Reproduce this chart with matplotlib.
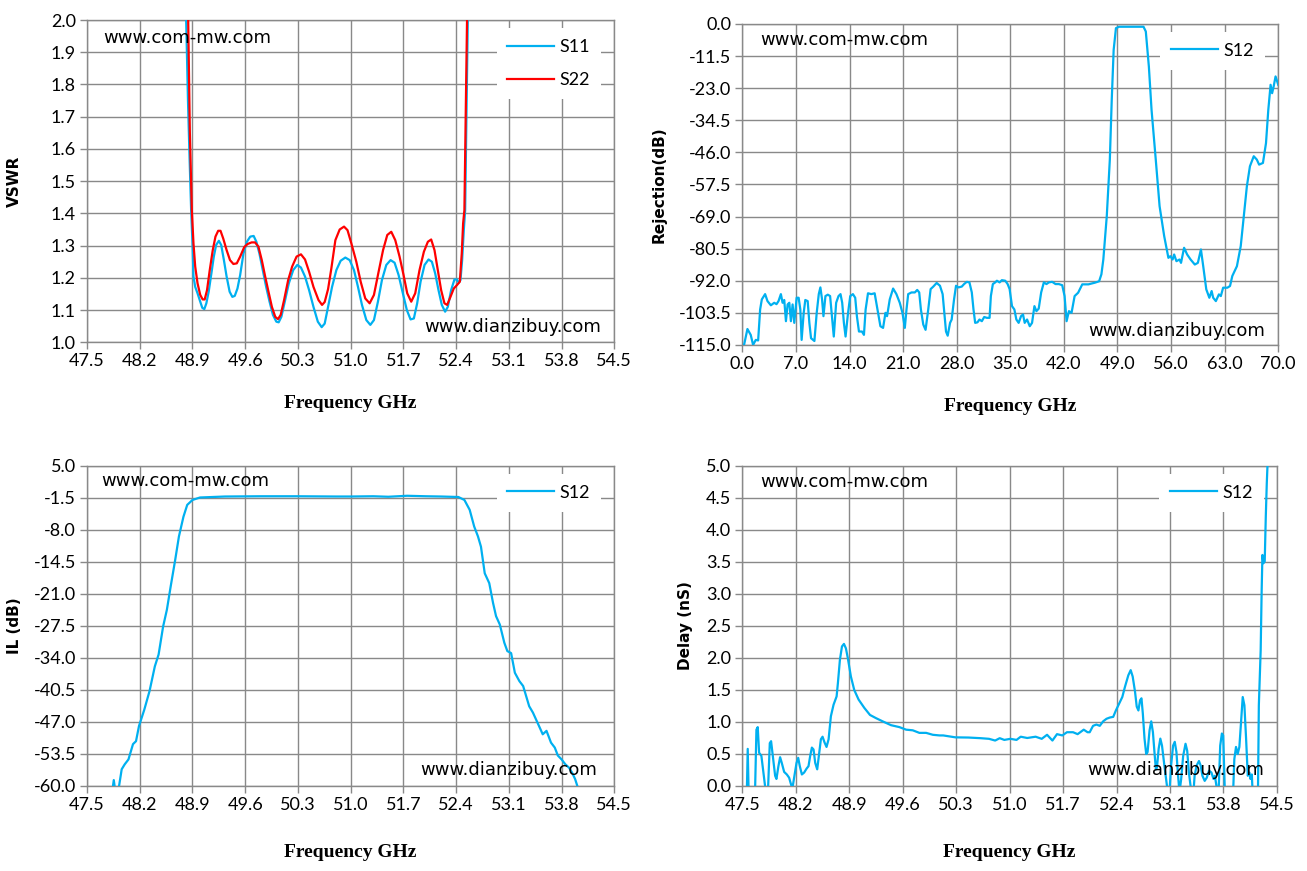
import matplotlib
matplotlib.use("Agg")
import matplotlib.pyplot as plt

plt.rcParams['font.family'] = ['Lato', 'DejaVu Sans']
plt.rcParams['axes.unicode_minus'] = False

# ---------------- data ----------------
# VSWR panel
vswr_s11_f = [48.79, 48.816, 48.84, 48.86, 48.882, 48.90, 48.913, 48.936, 48.967, 49.003, 49.03,
              49.057, 49.084, 49.115, 49.151, 49.183, 49.214, 49.25, 49.281, 49.317, 49.353,
              49.393, 49.429, 49.461, 49.497, 49.533, 49.577, 49.622, 49.667, 49.712, 49.748,
              49.788, 49.833, 49.878, 49.923, 49.968, 50.013, 50.044, 50.08, 50.125, 50.179,
              50.237, 50.291, 50.34, 50.394, 50.448, 50.506, 50.564, 50.615, 50.655, 50.70,
              50.753, 50.81, 50.867, 50.929, 50.987, 51.044, 51.097, 51.15, 51.208, 51.261,
              51.309, 51.362, 51.415, 51.473, 51.53, 51.583, 51.636, 51.693, 51.746, 51.795,
              51.839, 51.883, 51.928, 51.981, 52.034, 52.078, 52.122, 52.166, 52.21, 52.254,
              52.29, 52.334, 52.378, 52.409, 52.436, 52.458, 52.48, 52.502, 52.52, 52.54,
              52.555, 52.575]
vswr_s11 = [2.4, 2.0, 1.75, 1.58, 1.41, 1.307, 1.204, 1.172, 1.152, 1.126, 1.107,
            1.103, 1.121, 1.157, 1.214, 1.266, 1.302, 1.315, 1.302, 1.255, 1.204,
            1.157, 1.141, 1.144, 1.167, 1.209, 1.276, 1.312, 1.328, 1.330, 1.312,
            1.276, 1.224, 1.172, 1.126, 1.085, 1.064, 1.062, 1.079, 1.126, 1.183,
            1.224, 1.24, 1.232, 1.204, 1.162, 1.11, 1.064, 1.047, 1.058, 1.11,
            1.172, 1.224, 1.253, 1.263, 1.255, 1.224, 1.172, 1.116, 1.069, 1.054,
            1.069, 1.126, 1.193, 1.24, 1.255, 1.247, 1.209, 1.152, 1.10, 1.071,
            1.074, 1.121, 1.188, 1.24, 1.257, 1.25, 1.214, 1.162, 1.116, 1.095,
            1.11, 1.162, 1.195, 1.195, 1.185, 1.193, 1.255, 1.348, 1.41, 1.75,
            2.0, 2.4]
vswr_s22_f = [48.82, 48.843, 48.865, 48.891, 48.913, 48.936, 48.967, 49.003, 49.035, 49.062,
              49.093, 49.129, 49.169, 49.205, 49.241, 49.272, 49.308, 49.353, 49.398, 49.443,
              49.488, 49.533, 49.586, 49.631, 49.685, 49.73, 49.775, 49.82, 49.865, 49.909,
              49.954, 49.999, 50.035, 50.071, 50.116, 50.17, 50.223, 50.282, 50.34, 50.394,
              50.448, 50.506, 50.573, 50.62, 50.655, 50.70, 50.744, 50.797, 50.854, 50.912,
              50.958, 51.009, 51.075, 51.133, 51.194, 51.252, 51.309, 51.371, 51.43, 51.486,
              51.539, 51.592, 51.649, 51.702, 51.751, 51.804, 51.857, 51.914, 51.972, 52.025,
              52.069, 52.113, 52.157, 52.201, 52.245, 52.281, 52.325, 52.369, 52.413, 52.449,
              52.475, 52.493, 52.51, 52.53, 52.545, 52.565]
vswr_s22 = [2.4, 2.0, 1.65, 1.41, 1.307, 1.235, 1.183, 1.147, 1.133, 1.133,
            1.162, 1.224, 1.286, 1.328, 1.346, 1.346, 1.322, 1.286, 1.255, 1.243,
            1.245, 1.266, 1.295, 1.305, 1.31, 1.31, 1.297, 1.255, 1.204, 1.157,
            1.11, 1.079, 1.072, 1.085, 1.131, 1.193, 1.235, 1.266, 1.273, 1.257,
            1.219, 1.172, 1.131, 1.116, 1.125, 1.165, 1.23, 1.317, 1.35, 1.359,
            1.348, 1.307, 1.25, 1.188, 1.136, 1.121, 1.147, 1.219, 1.286, 1.333,
            1.343, 1.317, 1.266, 1.209, 1.152, 1.126, 1.152, 1.224, 1.281, 1.312,
            1.319, 1.286, 1.224, 1.162, 1.121, 1.116, 1.141, 1.167, 1.178, 1.188,
            1.276, 1.369, 1.41, 1.75, 2.0, 2.4]

# Rejection panel (S12 wideband)
rej_f = [0.22, 0.66, 1.09, 1.4, 1.75, 2.06, 2.32, 2.54, 2.97, 3.28, 3.72, 4.16, 4.46, 4.72, 5.03,
         5.25, 5.47, 5.69, 5.91, 6.13, 6.34, 6.56, 6.78, 7.09, 7.35, 7.57, 7.74, 8.01, 8.22, 8.53,
         8.75, 8.97, 9.41, 9.71, 9.98, 10.19, 10.41, 10.59, 10.85, 11.16, 11.46, 11.73, 11.94,
         12.25, 12.56, 12.82, 13.04, 13.26, 13.48, 13.78, 14.09, 14.44, 14.74, 14.96, 15.23,
         15.62, 15.88, 16.1, 16.41, 16.84, 17.28, 17.5, 17.72, 18.03, 18.38, 18.69, 18.9, 19.25,
         19.69, 20.12, 20.56, 20.91, 21.22, 21.44, 21.66, 22.09, 22.53, 22.84, 23.1, 23.32, 23.63,
         23.93, 24.28, 24.59, 24.94, 25.38, 25.81, 26.16, 26.38, 26.6, 26.82, 27.13, 27.34, 27.65,
         27.91, 28.22, 28.66, 28.96, 29.31, 29.66, 29.97, 30.19, 30.41, 30.71, 30.97, 31.28,
         31.59, 31.94, 32.29, 32.46, 32.72, 33.03, 33.25, 33.6, 33.9, 34.34, 34.65, 34.91, 35.22,
         35.53, 35.79, 36.09, 36.4, 36.66, 36.88, 37.19, 37.54, 37.84, 38.15, 38.41, 38.71, 39.03,
         39.38, 39.72, 40.03, 40.47, 40.91, 41.34, 41.78, 42.09, 42.35, 42.66, 43.0, 43.4, 43.86,
         44.4, 45.2, 46.05, 46.6, 46.9, 47.15, 47.6, 48.0, 48.25, 48.5, 48.8, 49.2, 50.0, 51.0,
         52.0, 52.4, 52.7, 53.1, 53.45, 54.0, 54.5, 55.1, 55.65, 55.9, 56.2, 56.4, 56.7, 57.1,
         57.3, 57.7, 58.1, 58.55, 59.1, 59.5, 59.9, 60.2, 60.6, 61.0, 61.3, 61.5, 61.85, 62.25,
         62.5, 62.8, 63.35, 63.7, 64.0, 64.6, 65.1, 65.5, 65.9, 66.3, 66.8, 67.2, 67.5, 68.0,
         68.4, 68.7, 69.0, 69.2, 69.4, 69.65, 70.0]
rej_db = [-115.0, -109.3, -111.4, -115.0, -113.2, -113.4, -102.3, -98.7, -96.8, -99.3, -100.8,
          -99.9, -100.4, -99.3, -96.8, -99.9, -98.9, -106.5, -100.5, -99.9, -106.5, -100.5,
          -107.1, -98.1, -98.1, -102.3, -113.2, -103.5, -98.9, -99.3, -107.1, -112.6, -113.6,
          -103.5, -96.8, -94.4, -98.7, -104.7, -97.5, -97.0, -97.5, -105.9, -112.0, -99.9,
          -97.5, -96.8, -99.9, -107.1, -112.0, -104.1, -97.5, -96.8, -98.1, -104.7, -110.2,
          -110.2, -111.4, -102.3, -96.5, -96.8, -96.5, -99.9, -103.5, -108.3, -108.9, -103.5,
          -104.7, -98.7, -94.8, -96.8, -99.9, -103.5, -108.9, -102.3, -96.8, -96.2, -96.2,
          -95.3, -96.2, -102.3, -107.7, -109.6, -102.3, -95.0, -94.1, -92.8, -93.8, -96.8,
          -103.5, -110.2, -111.7, -107.1, -105.9, -98.7, -93.8, -94.4, -94.1, -93.2, -92.4,
          -92.6, -96.2, -102.3, -107.1, -106.9, -105.9, -106.5, -105.0, -105.3, -105.3, -97.5,
          -93.2, -92.6, -92.0, -92.6, -91.8, -92.0, -93.2, -95.0, -101.1, -102.3, -105.9,
          -107.1, -104.7, -104.1, -107.1, -105.9, -108.3, -107.1, -101.1, -102.9, -102.0,
          -96.2, -92.6, -93.2, -92.6, -92.4, -93.2, -93.2, -93.6, -97.5, -106.5, -102.9,
          -103.5, -97.5, -96.3, -93.3, -93.3, -92.7, -92.2, -89.7, -84.4, -68.9, -48.6, -27.2,
          -9.3, -1.5, -1.0, -1.0, -1.0, -1.0, -1.0, -2.7, -15.3, -30.8, -48.6, -65.3, -76.0,
          -83.8, -83.2, -84.4, -82.6, -85.0, -84.4, -85.6, -80.2, -82.6, -84.4, -86.2, -85.6,
          -80.8, -86.8, -95.1, -98.1, -95.7, -98.1, -99.3, -96.9, -97.5, -94.5, -94.5, -93.9,
          -90.3, -86.8, -79.6, -68.9, -58.2, -51.0, -47.4, -48.6, -50.4, -49.8, -42.7, -30.8,
          -21.8, -24.8, -22.4, -18.8, -21.8]

# Insertion loss panel (S12)
il_f = [47.84, 47.855, 47.87, 47.92, 47.96, 48.0, 48.05, 48.11, 48.15, 48.19, 48.26, 48.33,
        48.40, 48.45, 48.51, 48.56, 48.61, 48.67, 48.72, 48.78, 48.83, 48.90, 49.0, 49.33,
        49.8, 50.3, 50.8, 51.0, 51.3, 51.5, 51.75, 52.0, 52.2, 52.43, 52.51, 52.58, 52.64,
        52.69, 52.73, 52.78, 52.84, 52.89, 52.93, 52.98, 53.04, 53.08, 53.13, 53.18, 53.24,
        53.29, 53.37, 53.42, 53.5, 53.55, 53.6, 53.66, 53.71, 53.75, 53.8, 53.85, 53.9, 53.94,
        53.98, 54.02]
il_db = [-60.5, -58.8, -60.5, -60.5, -56.6, -55.6, -54.6, -51.5, -50.9, -47.8, -44.5, -40.7,
         -35.7, -33.3, -27.6, -24.2, -19.5, -14.1, -9.3, -5.3, -2.9, -1.9, -1.4, -1.2,
         -1.15, -1.15, -1.2, -1.2, -1.15, -1.25, -1.05, -1.15, -1.2, -1.3, -1.9, -3.9, -7.3,
         -9.3, -11.4, -16.8, -18.8, -22.8, -25.5, -27.2, -30.9, -32.6, -33.0, -37.0, -38.7,
         -39.7, -43.8, -45.1, -47.8, -49.5, -48.8, -51.2, -52.2, -53.8, -54.6, -55.6, -56.3,
         -57.3, -58.6, -60.5]

# Group delay panel (S12)
dly_f = [47.555, 47.57, 47.585, 47.662, 47.684, 47.701, 47.719, 47.749, 47.771, 47.797, 47.828,
         47.859, 47.876, 47.894, 47.929, 47.946, 47.972, 47.994, 48.016, 48.047, 48.082, 48.112,
         48.143, 48.156, 48.182, 48.209, 48.231, 48.252, 48.279, 48.309, 48.34, 48.366, 48.388,
         48.41, 48.432, 48.454, 48.48, 48.506, 48.528, 48.55, 48.576, 48.602, 48.629, 48.659,
         48.694, 48.734, 48.751, 48.777, 48.804, 48.83, 48.856, 48.882, 48.921, 48.965, 49.022,
         49.097, 49.171, 49.25, 49.337, 49.447, 49.556, 49.644, 49.731, 49.818, 49.906, 49.994,
         50.081, 50.13, 50.29, 50.46, 50.62, 50.73, 50.81, 50.87, 50.93, 51.01, 51.09, 51.145,
         51.23, 51.34, 51.42, 51.49, 51.56, 51.62, 51.69, 51.75, 51.83, 51.89, 51.97, 52.02,
         52.048, 52.092, 52.136, 52.18, 52.224, 52.268, 52.312, 52.356, 52.391, 52.435, 52.475,
         52.51, 52.554, 52.585, 52.611, 52.642, 52.664, 52.686, 52.708, 52.726, 52.744, 52.766,
         52.788, 52.806, 52.832, 52.854, 52.876, 52.898, 52.915, 52.929, 52.951, 52.973, 52.995,
         53.026, 53.06, 53.083, 53.114, 53.14, 53.162, 53.184, 53.202, 53.224, 53.246, 53.272,
         53.303, 53.325, 53.347, 53.369, 53.395, 53.422, 53.448, 53.479, 53.501, 53.524, 53.554,
         53.581, 53.611, 53.642, 53.669, 53.687, 53.708, 53.73, 53.757, 53.779, 53.796, 53.81,
         53.823, 53.92, 53.942, 53.964, 53.986, 54.008, 54.03, 54.052, 54.074, 54.096, 54.118,
         54.14, 54.153, 54.171, 54.189, 54.25, 54.263, 54.287, 54.3, 54.31, 54.323, 54.34,
         54.354, 54.367, 54.376, 54.39]
dly_ns = [-0.3, 0.58, -0.3, -0.3, 0.88, 0.92, 0.52, 0.47, 0.26, 0.0, -0.3,
          0.67, 0.70, 0.52, 0.16, 0.11, 0.31, 0.45, 0.36, 0.22, 0.18, 0.13,
          0.0, -0.03, 0.16, 0.36, 0.44, 0.31, 0.18, 0.21, 0.27, 0.31, 0.47,
          0.60, 0.57, 0.36, 0.26, 0.52, 0.73, 0.77, 0.68, 0.61, 0.73, 1.09,
          1.27, 1.40, 1.61, 1.97, 2.18, 2.22, 2.15, 1.99, 1.71, 1.50, 1.35,
          1.22, 1.11, 1.06, 1.01, 0.95, 0.92, 0.88, 0.87, 0.83, 0.83, 0.80,
          0.79, 0.79, 0.76, 0.757, 0.747, 0.737, 0.71, 0.747, 0.72, 0.737, 0.72, 0.77,
          0.75, 0.77, 0.737, 0.80, 0.71, 0.81, 0.79, 0.84, 0.84, 0.81, 0.88, 0.84,
          0.84, 0.94, 0.96, 0.94, 1.01, 1.05, 1.07, 1.08, 1.18, 1.29, 1.39,
          1.55, 1.73, 1.81, 1.71, 1.47, 1.24, 1.18, 1.34, 1.37, 1.13, 0.74,
          0.50, 0.53, 0.87, 1.01, 0.84, 0.50, 0.26, 0.29, 0.58, 0.74, 0.63,
          0.32, 0.0, -0.3, 0.32, 0.63, 0.69, 0.53, 0.21, -0.1, 0.11, 0.47,
          0.66, 0.55, 0.21, 0.0, -0.3, 0.16, 0.32, 0.39, 0.32, 0.16, 0.08,
          0.13, 0.24, 0.21, 0.11, 0.16, 0.0, -0.3, 0.63, 0.82, 0.79, 0.21,
          -0.3, -0.3, 0.42, 0.61, 0.50, 0.61, 1.0, 1.39, 1.26, 0.74, 0.16,
          0.21, 0.11, 0.18, -0.3, -0.3, 1.26, 2.12, 3.06, 3.61, 3.48, 3.51,
          4.21, 4.73, 5.0, 5.6]

# axis ticks
freq_ticks = [47.5, 48.2, 48.9, 49.6, 50.3, 51.0, 51.7, 52.4, 53.1, 53.8, 54.5]
vswr_ticks = [1.0, 1.1, 1.2, 1.3, 1.4, 1.5, 1.6, 1.7, 1.8, 1.9, 2.0]
rej_xticks = [0.0, 7.0, 14.0, 21.0, 28.0, 35.0, 42.0, 49.0, 56.0, 63.0, 70.0]
rej_yticks = [0.0, -11.5, -23.0, -34.5, -46.0, -57.5, -69.0, -80.5, -92.0, -103.5, -115.0]
il_ticks = [5.0, -1.5, -8.0, -14.5, -21.0, -27.5, -34.0, -40.5, -47.0, -53.5, -60.0]
dly_ticks = [0.0, 0.5, 1.0, 1.5, 2.0, 2.5, 3.0, 3.5, 4.0, 4.5, 5.0]

BLUE = '#00B0F0'
RED = '#FF0000'
GRID = '#898989'

fig = plt.figure(figsize=(13.07, 8.71), dpi=100)

def style(ax, xt, yt, xlim, ylim, ylabel, ylab_x, xlab_y):
    ax.set_xlim(*xlim)
    ax.set_ylim(*ylim)
    ax.set_xticks(xt)
    ax.set_yticks(yt)
    ax.set_xticklabels([f"{v:.1f}" for v in xt])
    ax.set_yticklabels([f"{v:.1f}" for v in yt])
    ax.grid(True, color=GRID, linewidth=1.0)
    ax.set_axisbelow(True)
    for s in ax.spines.values():
        s.set_color(GRID)
        s.set_linewidth(1.0)
    ax.tick_params(direction='out', length=5, width=1.0, color=GRID,
                   labelsize=13, pad=3)
    ax.set_ylabel(ylabel, fontsize=11, fontweight='bold', family=['DejaVu Sans'])
    ax.yaxis.set_label_coords(ylab_x, 0.5)
    ax.set_xlabel('Frequency GHz', fontsize=14, fontweight='bold',
                  family=['Liberation Serif', 'DejaVu Serif'])
    ax.xaxis.set_label_coords(0.5, xlab_y)

def marks(ax, x1, y1, x2, y2):
    ax.text(x1, y1, 'www.com-mw.com', transform=ax.transAxes, fontsize=13,
            family=['DejaVu Sans'], ha='left', va='center', zorder=5)
    ax.text(x2, y2, 'www.dianzibuy.com', transform=ax.transAxes, fontsize=13,
            family=['DejaVu Sans'], ha='right', va='center', zorder=5)

def legend(ax, anchor):
    leg = ax.legend(loc='upper right', bbox_to_anchor=anchor, borderaxespad=0,
                    frameon=True, fancybox=False, framealpha=1, edgecolor='none',
                    facecolor='white', fontsize=13, handlelength=2.6,
                    handletextpad=0.3, labelspacing=0.95, borderpad=0.6)
    leg.set_zorder(4)

# Top-left: VSWR
ax1 = fig.add_axes([0.0666, 0.607, 0.4034, 0.370])
ax1.plot(vswr_s11_f, vswr_s11, color=BLUE, lw=1.6, label='S11', zorder=3)
ax1.plot(vswr_s22_f, vswr_s22, color=RED, lw=1.6, label='S22', zorder=3)
style(ax1, freq_ticks, vswr_ticks, (47.5, 54.5), (1.0, 2.0), 'VSWR', -0.123, -0.165)
marks(ax1, 0.03, 0.944, 0.975, 0.047)
legend(ax1, (0.975, 0.975))

# Top-right: Rejection
ax2 = fig.add_axes([0.568, 0.604, 0.410, 0.3685])
ax2.plot(rej_f, rej_db, color=BLUE, lw=1.6, label='S12', zorder=3)
style(ax2, rej_xticks, rej_yticks, (0.0, 70.0), (-115.0, 0.0), 'Rejection(dB)', -0.142, -0.165)
marks(ax2, 0.034, 0.95, 0.976, 0.044)
legend(ax2, (0.975, 0.975))

# Bottom-left: IL
ax3 = fig.add_axes([0.0666, 0.0976, 0.4034, 0.3674])
ax3.plot(il_f, il_db, color=BLUE, lw=1.6, label='S12', zorder=3)
style(ax3, freq_ticks, il_ticks, (47.5, 54.5), (-60.0, 5.0), 'IL (dB)', -0.123, -0.181)
marks(ax3, 0.027, 0.953, 0.968, 0.05)
legend(ax3, (0.975, 0.975))

# Bottom-right: Delay
ax4 = fig.add_axes([0.568, 0.0976, 0.409, 0.3674])
ax4.plot(dly_f, dly_ns, color=BLUE, lw=1.6, label='S12', zorder=3)
style(ax4, freq_ticks, dly_ticks, (47.5, 54.5), (0.0, 5.0), 'Delay (nS)', -0.092, -0.181)
marks(ax4, 0.034, 0.95, 0.976, 0.05)
legend(ax4, (0.975, 0.975))

fig.savefig('out.png', dpi=100)
